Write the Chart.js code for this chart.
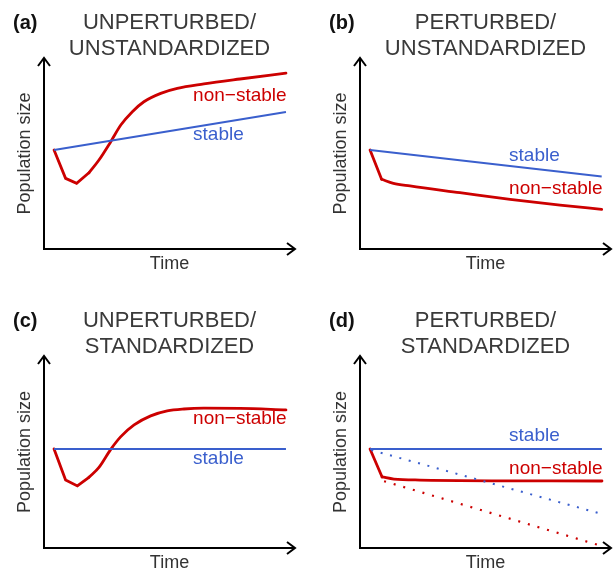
<!DOCTYPE html>
<html>
<head>
<meta charset="utf-8">
<script src="https://cdn.jsdelivr.net/npm/chart.js@4"></script>
<style>
html,body{margin:0;padding:0;background:#fff;}
body{width:613px;height:572px;position:relative;overflow:hidden;}
.p{position:absolute;}
</style>
</head>
<body>
<div class="p" style="left:0;top:0"><canvas id="ca" width="306" height="286"></canvas></div>
<div class="p" style="left:306px;top:0"><canvas id="cb" width="307" height="286"></canvas></div>
<div class="p" style="left:0;top:286px"><canvas id="cc" width="306" height="286"></canvas></div>
<div class="p" style="left:306px;top:286px"><canvas id="cd" width="307" height="286"></canvas></div>
<script>
// ---- Data (arbitrary units: time 0-100, population size 0-100) ----
// Panel (a) unperturbed / unstandardized
const aStableX = [4.0, 96.4];
const aStableY = [51.8, 71.7];
const aNonX = [4.0, 8.6, 13.0, 17.9, 21.9, 26.6, 30.6, 35.2, 39.8, 46.5, 53.1, 63.7, 78.1, 96.4];
const aNonY = [51.8, 37.0, 34.4, 39.9, 46.6, 56.2, 64.9, 71.9, 77.1, 81.5, 84.1, 86.4, 89.0, 92.1];
const aKink = 3;   // points up to this index form the sharp perturbation dip
// Panel (b) perturbed / unstandardized
const bStableX = [4.0, 96.3];
const bStableY = [51.8, 37.9];
const bNonX = [4.0, 8.6, 13.3, 19.9, 39.8, 59.8, 79.7, 96.3];
const bNonY = [51.8, 36.5, 34.4, 33.0, 29.5, 26.0, 23.0, 20.8];
const bKink = 1;
// Panel (c) unperturbed / standardized
const cStableX = [4.0, 96.4];
const cStableY = [51.6, 51.6];
const cNonX = [4.0, 8.6, 13.3, 17.9, 21.9, 26.6, 30.6, 35.9, 42.5, 49.1, 55.8, 63.7, 78.1, 96.4];
const cNonY = [51.6, 35.4, 32.3, 36.8, 42.0, 51.4, 58.0, 64.1, 68.8, 71.4, 72.4, 72.8, 72.7, 71.9];
const cKink = 3;
// Panel (d) perturbed / standardized
const dStableX = [4.0, 96.4];
const dStableY = [51.6, 51.6];
const dNonX = [4.0, 8.8, 13.5, 23.9, 96.4];
const dNonY = [51.6, 37.0, 35.9, 35.4, 34.9];
const dKink = 1;
const dStableDotX = [4.5, 96.4];
const dStableDotY = [51.0, 17.7];
const dNonDotX = [9.6, 96.4];
const dNonDotY = [34.8, 1.0];

// ---- Text ----
const panelLetters = ['(a)', '(b)', '(c)', '(d)'];
const panelTitles = [
  ['UNPERTURBED/', 'UNSTANDARDIZED'],
  ['PERTURBED/', 'UNSTANDARDIZED'],
  ['UNPERTURBED/', 'STANDARDIZED'],
  ['PERTURBED/', 'STANDARDIZED']
];
const xTitle = 'Time';
const yTitle = 'Population size';
const stableLabel = 'stable';
const nonStableLabel = 'non\u2212stable';

const RED = '#cc0000';
const BLUE = '#3a5fcd';
const FONT = '"Liberation Sans", Arial, sans-serif';

function pts(xs, ys) { return xs.map((x, i) => ({ x: x, y: ys[i] })); }

const panelPlugin = {
  id: 'panel',
  afterDraw(chart) {
    const o = chart.options.plugins.panel;
    const ctx = chart.ctx;
    const a = chart.chartArea;
    const cx = (a.left + a.right) / 2;
    const cy = (a.top + a.bottom) / 2;
    ctx.save();
    // axes with open arrow heads
    ctx.strokeStyle = '#000';
    ctx.lineWidth = 2;
    ctx.lineCap = 'butt';
    ctx.lineJoin = 'miter';
    ctx.beginPath();
    ctx.moveTo(a.left, a.top);
    ctx.lineTo(a.left, a.bottom);
    ctx.lineTo(a.right, a.bottom);
    ctx.stroke();
    ctx.beginPath();
    ctx.moveTo(a.left - 6, a.top + 8);
    ctx.lineTo(a.left, a.top);
    ctx.lineTo(a.left + 6, a.top + 8);
    ctx.moveTo(a.right - 8, a.bottom - 6);
    ctx.lineTo(a.right, a.bottom);
    ctx.lineTo(a.right - 8, a.bottom + 6);
    ctx.stroke();
    // titles
    ctx.textAlign = 'center';
    ctx.textBaseline = 'middle';
    ctx.fillStyle = '#3a3a3a';
    ctx.font = '22px ' + FONT;
    ctx.fillText(o.title[0], cx, a.top - 35);
    ctx.fillText(o.title[1], cx, a.top - 9);
    ctx.fillStyle = '#111';
    ctx.font = 'bold 20px ' + FONT;
    ctx.textAlign = 'left';
    ctx.fillText(o.letter, a.left - 31, a.top - 35);
    // axis titles
    ctx.fillStyle = '#333';
    ctx.font = '18px ' + FONT;
    ctx.textAlign = 'center';
    ctx.fillText(xTitle, cx, a.bottom + 15);
    ctx.save();
    ctx.translate(a.left - 19, cy);
    ctx.rotate(-Math.PI / 2);
    ctx.fillText(yTitle, 0, 0);
    ctx.restore();
    // series labels
    ctx.font = '19px ' + FONT;
    ctx.textAlign = 'left';
    const xs = chart.scales.x, ys = chart.scales.y;
    o.labels.forEach(l => {
      ctx.fillStyle = l.color;
      ctx.fillText(l.text, xs.getPixelForValue(l.x), ys.getPixelForValue(l.y));
    });
    ctx.restore();
  }
};

function makeChart(id, idx, datasets, labels, padLeft, padTop) {
  const cv = document.getElementById(id);
  return new Chart(cv, {
    type: 'scatter',
    data: { datasets: datasets },
    options: {
      responsive: false,
      animation: false,
      events: [],
      layout: { padding: { left: padLeft, top: padTop, right: cv.width - padLeft - 251, bottom: cv.height - padTop - (idx < 2 ? 191 : 192) } },
      scales: {
        x: { type: 'linear', min: 0, max: 100, display: false },
        y: { type: 'linear', min: 0, max: 100, display: false }
      },
      plugins: {
        legend: { display: false },
        tooltip: { enabled: false },
        panel: { letter: panelLetters[idx], title: panelTitles[idx], labels: labels }
      },
      elements: { point: { radius: 0 } }
    },
    plugins: [panelPlugin]
  });
}

function line(data, color, width, dash) {
  return {
    data: data, showLine: true, borderColor: color, borderWidth: width,
    tension: 0, pointRadius: 0, fill: false,
    borderDash: dash || [], borderCapStyle: 'butt', borderJoinStyle: 'miter'
  };
}
function smooth(data, color, width) {
  return {
    data: data, showLine: true, borderColor: color, borderWidth: width,
    cubicInterpolationMode: 'monotone', tension: 0.4, pointRadius: 0, fill: false,
    borderCapStyle: 'round', borderJoinStyle: 'round'
  };
}
function redSeries(xs, ys, k) {
  const p = pts(xs, ys);
  const sharp = line(p.slice(0, k + 1), RED, 2.8);
  sharp.borderCapStyle = 'round';
  sharp.borderJoinStyle = 'miter';
  return [sharp, smooth(p.slice(k), RED, 2.8)];
}

makeChart('ca', 0, [
  line(pts(aStableX, aStableY), BLUE, 2),
  ...redSeries(aNonX, aNonY, aKink)
], [
  { text: nonStableLabel, x: 59.4, y: 80.1, color: RED },
  { text: stableLabel, x: 59.4, y: 59.7, color: BLUE }
], 44, 58);

makeChart('cb', 1, [
  line(pts(bStableX, bStableY), BLUE, 2),
  ...redSeries(bNonX, bNonY, bKink)
], [
  { text: stableLabel, x: 59.4, y: 48.7, color: BLUE },
  { text: nonStableLabel, x: 59.4, y: 31.4, color: RED }
], 54, 58);

makeChart('cc', 2, [
  line(pts(cStableX, cStableY), BLUE, 2),
  ...redSeries(cNonX, cNonY, cKink)
], [
  { text: nonStableLabel, x: 59.4, y: 67.2, color: RED },
  { text: stableLabel, x: 59.4, y: 46.4, color: BLUE }
], 44, 70);

makeChart('cd', 3, [
  line(pts(dStableDotX, dStableDotY), BLUE, 2, [2, 7.7]),
  line(pts(dNonDotX, dNonDotY), RED, 2.2, [2, 8]),
  line(pts(dStableX, dStableY), BLUE, 2),
  ...redSeries(dNonX, dNonY, dKink)
], [
  { text: stableLabel, x: 59.4, y: 58.3, color: BLUE },
  { text: nonStableLabel, x: 59.4, y: 41.1, color: RED }
], 54, 70);
</script>
</body>
</html>
